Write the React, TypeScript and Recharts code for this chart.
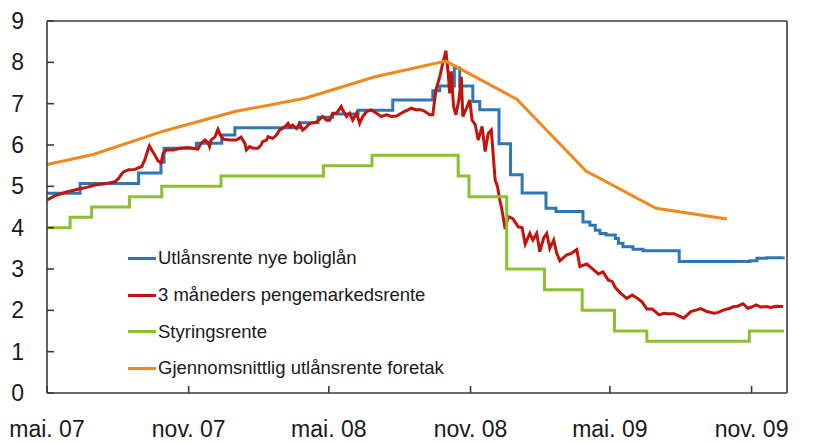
import React from 'react';
import { LineChart, Line, XAxis, YAxis, ReferenceLine, Legend } from 'recharts';

const tickDates = ['2007-05-01', '2007-11-01', '2008-05-01', '2008-11-01', '2009-05-01', '2009-11-01'];
const tickLabels = ['mai. 07', 'nov. 07', 'mai. 08', 'nov. 08', 'mai. 09', 'nov. 09'];
const yTicks = [0, 1, 2, 3, 4, 5, 6, 7, 8, 9];

// Utlånsrente nye boliglån (trappetrinn)
const boliglan: [string, number][] = [
  ['2007-05-01', 4.83], ['2007-06-13', 5.07], ['2007-08-28', 5.32], ['2007-09-26', 5.58],
  ['2007-09-30', 5.92], ['2007-11-11', 6.04], ['2007-12-14', 6.24], ['2007-12-31', 6.42],
  ['2008-03-24', 6.54], ['2008-04-17', 6.67], ['2008-05-06', 6.75], ['2008-06-08', 6.84],
  ['2008-07-23', 7.09], ['2008-09-13', 7.31], ['2008-09-22', 7.43], ['2008-10-11', 7.86],
  ['2008-10-18', 7.43], ['2008-11-04', 7.05], ['2008-11-13', 6.85], ['2008-12-08', 6.03],
  ['2008-12-23', 5.28], ['2009-01-07', 4.84], ['2009-02-07', 4.47], ['2009-02-20', 4.39],
  ['2009-03-27', 4.14], ['2009-04-05', 4.06], ['2009-04-12', 3.94], ['2009-04-18', 3.86],
  ['2009-04-26', 3.82], ['2009-05-08', 3.74], ['2009-05-12', 3.62], ['2009-05-18', 3.54],
  ['2009-05-31', 3.48], ['2009-06-13', 3.44], ['2009-07-30', 3.18], ['2009-10-30', 3.2],
  ['2009-11-08', 3.26], ['2009-11-21', 3.27], ['2009-12-12', 3.3],
];

// 3 måneders pengemarkedsrente
const pengemarked: [string, number][] = [
  ['2007-05-01', 4.67], ['2007-05-11', 4.77], ['2007-05-24', 4.85], ['2007-06-10', 4.93],
  ['2007-06-23', 4.98], ['2007-07-02', 5.03], ['2007-07-15', 5.06], ['2007-07-28', 5.11],
  ['2007-08-02', 5.19], ['2007-08-08', 5.35], ['2007-08-15', 5.4], ['2007-08-23', 5.41],
  ['2007-09-01', 5.48], ['2007-09-05', 5.64], ['2007-09-09', 5.88], ['2007-09-11', 5.98],
  ['2007-09-14', 5.88], ['2007-09-18', 5.76], ['2007-09-22', 5.62], ['2007-09-26', 5.57],
  ['2007-09-29', 5.8], ['2007-10-03', 5.88], ['2007-10-12', 5.88], ['2007-10-21', 5.92],
  ['2007-10-31', 5.94], ['2007-11-13', 5.9], ['2007-11-17', 6.04], ['2007-11-22', 6.12],
  ['2007-11-26', 6.06], ['2007-11-28', 5.96], ['2007-11-30', 6.12], ['2007-12-05', 6.19],
  ['2007-12-09', 6.38], ['2007-12-12', 6.24], ['2007-12-16', 6.14], ['2007-12-24', 6.12],
  ['2008-01-02', 6.12], ['2008-01-08', 6.19], ['2008-01-13', 6.04], ['2008-01-15', 5.88],
  ['2008-01-19', 5.96], ['2008-01-24', 5.92], ['2008-01-30', 5.92], ['2008-02-03', 6.0],
  ['2008-02-05', 6.08], ['2008-02-10', 6.12], ['2008-02-12', 6.2], ['2008-02-18', 6.16],
  ['2008-02-23', 6.24], ['2008-02-27', 6.36], ['2008-03-05', 6.44], ['2008-03-09', 6.52],
  ['2008-03-11', 6.44], ['2008-03-15', 6.48], ['2008-03-20', 6.4], ['2008-03-24', 6.52],
  ['2008-03-28', 6.36], ['2008-04-02', 6.44], ['2008-04-06', 6.52], ['2008-04-15', 6.56],
  ['2008-04-19', 6.62], ['2008-04-23', 6.69], ['2008-04-28', 6.6], ['2008-05-02', 6.6],
  ['2008-05-06', 6.77], ['2008-05-11', 6.77], ['2008-05-17', 6.93], ['2008-05-19', 6.85],
  ['2008-05-24', 6.69], ['2008-05-28', 6.77], ['2008-06-01', 6.6], ['2008-06-06', 6.77],
  ['2008-06-10', 6.52], ['2008-06-14', 6.69], ['2008-06-19', 6.81], ['2008-06-25', 6.85],
  ['2008-07-02', 6.77], ['2008-07-08', 6.69], ['2008-07-15', 6.73], ['2008-07-21', 6.69],
  ['2008-07-28', 6.7], ['2008-08-03', 6.77], ['2008-08-07', 6.81], ['2008-08-12', 6.85],
  ['2008-08-16', 6.89], ['2008-08-23', 6.85], ['2008-08-27', 6.86], ['2008-09-02', 6.82],
  ['2008-09-09', 6.73], ['2008-09-13', 6.73], ['2008-09-17', 7.33], ['2008-09-22', 7.65],
  ['2008-09-25', 7.9], ['2008-09-30', 8.28], ['2008-10-03', 7.73], ['2008-10-05', 7.25],
  ['2008-10-07', 7.78], ['2008-10-10', 6.93], ['2008-10-13', 6.73], ['2008-10-17', 7.1],
  ['2008-10-20', 7.65], ['2008-10-22', 6.69], ['2008-10-27', 6.9], ['2008-10-31', 7.09],
  ['2008-11-03', 6.6], ['2008-11-07', 6.5], ['2008-11-11', 6.12], ['2008-11-16', 6.45],
  ['2008-11-20', 5.84], ['2008-11-24', 6.28], ['2008-11-28', 6.36], ['2008-12-03', 5.15],
  ['2008-12-06', 5.0], ['2008-12-09', 4.67], ['2008-12-11', 4.51], ['2008-12-16', 3.97],
  ['2008-12-20', 4.27], ['2008-12-26', 4.22], ['2009-01-02', 4.02], ['2009-01-07', 4.0],
  ['2009-01-11', 3.6], ['2009-01-17', 3.86], ['2009-01-21', 3.7], ['2009-01-26', 3.86],
  ['2009-01-30', 3.42], ['2009-02-04', 3.75], ['2009-02-08', 3.86], ['2009-02-12', 3.5],
  ['2009-02-17', 3.7], ['2009-02-21', 3.38], ['2009-02-25', 3.2], ['2009-03-06', 3.34],
  ['2009-03-12', 3.38], ['2009-03-19', 3.47], ['2009-03-23', 3.06], ['2009-04-01', 3.12],
  ['2009-04-10', 2.98], ['2009-04-16', 2.88], ['2009-04-22', 2.93], ['2009-04-29', 2.73],
  ['2009-05-04', 2.7], ['2009-05-08', 2.55], ['2009-05-15', 2.41], ['2009-05-23', 2.29],
  ['2009-05-30', 2.37], ['2009-06-05', 2.3], ['2009-06-12', 2.2], ['2009-06-18', 2.03],
  ['2009-06-25', 2.03], ['2009-07-04', 1.89], ['2009-07-10', 1.93], ['2009-07-16', 1.92],
  ['2009-07-23', 1.92], ['2009-07-29', 1.87], ['2009-08-05', 1.81], ['2009-08-14', 1.97],
  ['2009-08-22', 2.01], ['2009-08-27', 2.04], ['2009-09-04', 1.97], ['2009-09-13', 1.93],
  ['2009-09-19', 1.95], ['2009-09-26', 2.01], ['2009-10-04', 2.05], ['2009-10-08', 2.09],
  ['2009-10-14', 2.1], ['2009-10-21', 2.16], ['2009-10-27', 2.05], ['2009-11-01', 2.08],
  ['2009-11-07', 2.13], ['2009-11-13', 2.08], ['2009-11-20', 2.09], ['2009-11-26', 2.07],
  ['2009-12-03', 2.1], ['2009-12-12', 2.09],
];

// Styringsrente
const styringsrente: [string, number][] = [
  ['2007-05-01', 4.0], ['2007-05-31', 4.25], ['2007-06-28', 4.5], ['2007-08-16', 4.75],
  ['2007-09-27', 5.0], ['2007-12-13', 5.25], ['2008-04-24', 5.5], ['2008-06-26', 5.75],
  ['2008-10-16', 5.25], ['2008-10-30', 4.75], ['2008-12-18', 3.0], ['2009-02-05', 2.5],
  ['2009-03-26', 2.0], ['2009-05-07', 1.5], ['2009-06-18', 1.25], ['2009-10-29', 1.5],
  ['2009-12-13', 1.5],
];

// Gjennomsnittlig utlånsrente foretak (kvartal)
const foretak: [string, number][] = [
  ['2007-05-01', 5.53], ['2007-06-30', 5.77], ['2007-09-30', 6.34], ['2007-12-31', 6.81],
  ['2008-03-31', 7.13], ['2008-06-30', 7.65], ['2008-09-30', 8.03], ['2008-12-31', 7.11],
  ['2009-03-31', 5.37], ['2009-06-30', 4.47], ['2009-09-30', 4.21],
];

const toTime = (s: string) => Date.UTC(+s.slice(0, 4), +s.slice(5, 7) - 1, +s.slice(8, 10));
const toRows = (pts: [string, number][]) => pts.map(([d, v]) => ({ t: toTime(d), v }));

const xStart = toTime('2007-05-01');
const xEnd = toTime('2009-12-17');
const tickTimes = tickDates.map(toTime);

const FONT = '"Liberation Sans", Arial, sans-serif';
const AXIS = '#3a3a3a';

const series = [
  { name: 'Utlånsrente nye boliglån', color: '#2f76b4', data: toRows(boliglan), type: 'stepAfter' as const },
  { name: '3 måneders pengemarkedsrente', color: '#c0140c', data: toRows(pengemarked), type: 'linear' as const },
  { name: 'Styringsrente', color: '#8cc02e', data: toRows(styringsrente), type: 'stepAfter' as const },
  { name: 'Gjennomsnittlig utlånsrente foretak', color: '#f0881e', data: toRows(foretak), type: 'linear' as const },
];
const seriesOrder = series.map((s) => s.name);

const renderLegend = (props: any) => {
  const items = [...(props.payload || [])].sort(
    (a: any, b: any) => seriesOrder.indexOf(a.value) - seriesOrder.indexOf(b.value)
  );
  return (
    <div style={{ fontFamily: FONT }}>
      {items.map((p: any) => (
        <div key={p.value} style={{ display: 'flex', alignItems: 'center', height: 36.7 }}>
          <span style={{ display: 'inline-block', width: 28, height: 3, background: p.color }} />
          <span style={{ marginLeft: 2, fontSize: 18.5, color: '#1a1a1a' }}>{p.value}</span>
        </div>
      ))}
    </div>
  );
};

export default function App() {
  const tickStyle = { fontSize: 23, fill: '#1a1a1a', fontFamily: FONT };
  return (
    <div style={{ position: 'absolute', left: 0, top: 0, background: '#fff' }}>
      <LineChart width={825} height={443} margin={{ top: 21, right: 0, bottom: 0, left: 0 }}>
        <XAxis
          dataKey="t"
          type="number"
          domain={[xStart, xEnd]}
          allowDataOverflow
          ticks={tickTimes}
          tickFormatter={(v: number) => tickLabels[tickTimes.indexOf(v)] ?? ''}
          interval={0}
          tickSize={-7}
          tickMargin={35}
          tick={tickStyle}
          stroke={AXIS}
          strokeWidth={1.6}
          height={50}
        />
        <YAxis
          yAxisId="left"
          domain={[0, 9]}
          ticks={yTicks}
          interval={0}
          width={47}
          tickSize={-7}
          tickMargin={30}
          tick={tickStyle}
          stroke={AXIS}
          strokeWidth={1.6}
        />
        <YAxis
          yAxisId="right"
          orientation="right"
          domain={[0, 9]}
          ticks={yTicks}
          interval={0}
          width={38}
          tickSize={-7}
          tickMargin={29}
          tick={tickStyle}
          stroke={AXIS}
          strokeWidth={1.6}
        />
        <ReferenceLine yAxisId="left" y={9} stroke={AXIS} strokeWidth={1.6} />
        {series.map((s) => (
          <Line
            key={s.name}
            yAxisId="left"
            data={s.data}
            dataKey="v"
            name={s.name}
            type={s.type}
            stroke={s.color}
            strokeWidth={3}
            dot={false}
            isAnimationActive={false}
          />
        ))}
        <Legend
          layout="vertical"
          align="center"
          verticalAlign="middle"
          content={renderLegend}
          wrapperStyle={{ left: 128, top: 240, width: 360 }}
        />
      </LineChart>
    </div>
  );
}
